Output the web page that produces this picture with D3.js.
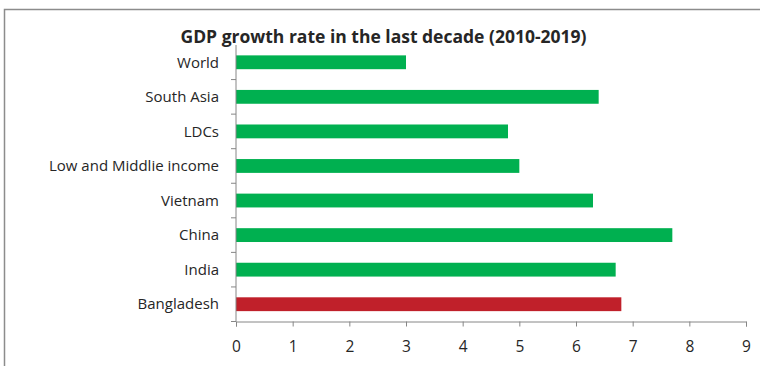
<!DOCTYPE html>
<html lang="en">

<head>
  <meta charset="utf-8">
  <title>GDP growth rate in the last decade</title>
  <script src="https://d3js.org/d3.v7.min.js"></script>
  <style>
    body { margin: 0; background: white; }
    text { font-family: "Open Sans", "Noto Sans", sans-serif; fill: #262626; }
    .titulo { font-weight: bold; font-size: 17.5px; }
    .cat text { font-size: 15px; }
    .eixo-x text { font-size: 15.5px; }
  </style>
</head>

<body>
  <svg width="760" height="366"></svg>

  <script>
    // dados
    var categories = ["World", "South Asia", "LDCs", "Low and Middlie income",
                      "Vietnam", "China", "India", "Bangladesh"];
    var growth = [3.0, 6.4, 4.8, 5.0, 6.3, 7.7, 6.7, 6.8];
    var xTicks = [0, 1, 2, 3, 4, 5, 6, 7, 8, 9];
    var highlight = "Bangladesh";

    var svg = d3.select("svg");

    // moldura (a direita e embaixo ficam fora da imagem)
    svg.append("rect")
      .attr("x", 4.5).attr("y", 9.5)
      .attr("width", 800).attr("height", 400)
      .attr("fill", "none")
      .attr("stroke", "#8c8c8c")
      .attr("stroke-width", 1.5);

    var plotLeft = 236, plotRight = 746, plotTop = 45, plotBottom = 321.5;

    var x = d3.scaleLinear().domain([0, 9]).range([plotLeft, plotRight]);
    var y = d3.scaleBand().domain(categories).range([plotTop, plotBottom]).paddingInner(0.6).paddingOuter(0.3);
    var yLine = d3.scaleBand().domain(categories).range([plotTop, plotBottom]);

    svg.append("text")
      .attr("class", "titulo")
      .attr("x", 383.5).attr("y", 43)
      .attr("text-anchor", "middle")
      .text("GDP growth rate in the last decade (2010-2019)");

    // barras
    svg.append("g").selectAll("rect")
      .data(categories)
      .join("rect")
        .attr("x", x(0))
        .attr("y", d => y(d))
        .attr("width", (d, i) => x(growth[i]) - x(0))
        .attr("height", y.bandwidth())
        .attr("fill", d => d === highlight ? "#c0202a" : "#00b050");

    // eixo y: linha + marcas entre categorias
    var gy = svg.append("g").attr("class", "cat");
    gy.append("line")
      .attr("x1", plotLeft).attr("x2", plotLeft)
      .attr("y1", plotTop).attr("y2", plotBottom)
      .attr("stroke", "#868686");
    gy.selectAll("line.tick")
      .data(categories)
      .join("line")
        .attr("class", "tick")
        .attr("x1", plotLeft - 5).attr("x2", plotLeft)
        .attr("y1", d => yLine(d) + yLine.bandwidth())
        .attr("y2", d => yLine(d) + yLine.bandwidth())
        .attr("stroke", "#868686");
    gy.selectAll("text")
      .data(categories)
      .join("text")
        .attr("x", plotLeft - 17)
        .attr("y", d => yLine(d) + yLine.bandwidth() / 2)
        .attr("dy", "0.35em")
        .attr("text-anchor", "end")
        .text(d => d);

    // eixo x
    var gx = svg.append("g")
      .attr("class", "eixo-x")
      .attr("transform", "translate(0," + plotBottom + ")")
      .call(d3.axisBottom(x).tickValues(xTicks).tickSize(5).tickPadding(14).tickFormat(d3.format("d")));
    gx.select(".domain").attr("stroke", "#868686");
    gx.selectAll(".tick line").attr("stroke", "#868686");
    gx.selectAll(".tick text").attr("fill", "#262626").style("font-family", null);
  </script>
</body>

</html>
